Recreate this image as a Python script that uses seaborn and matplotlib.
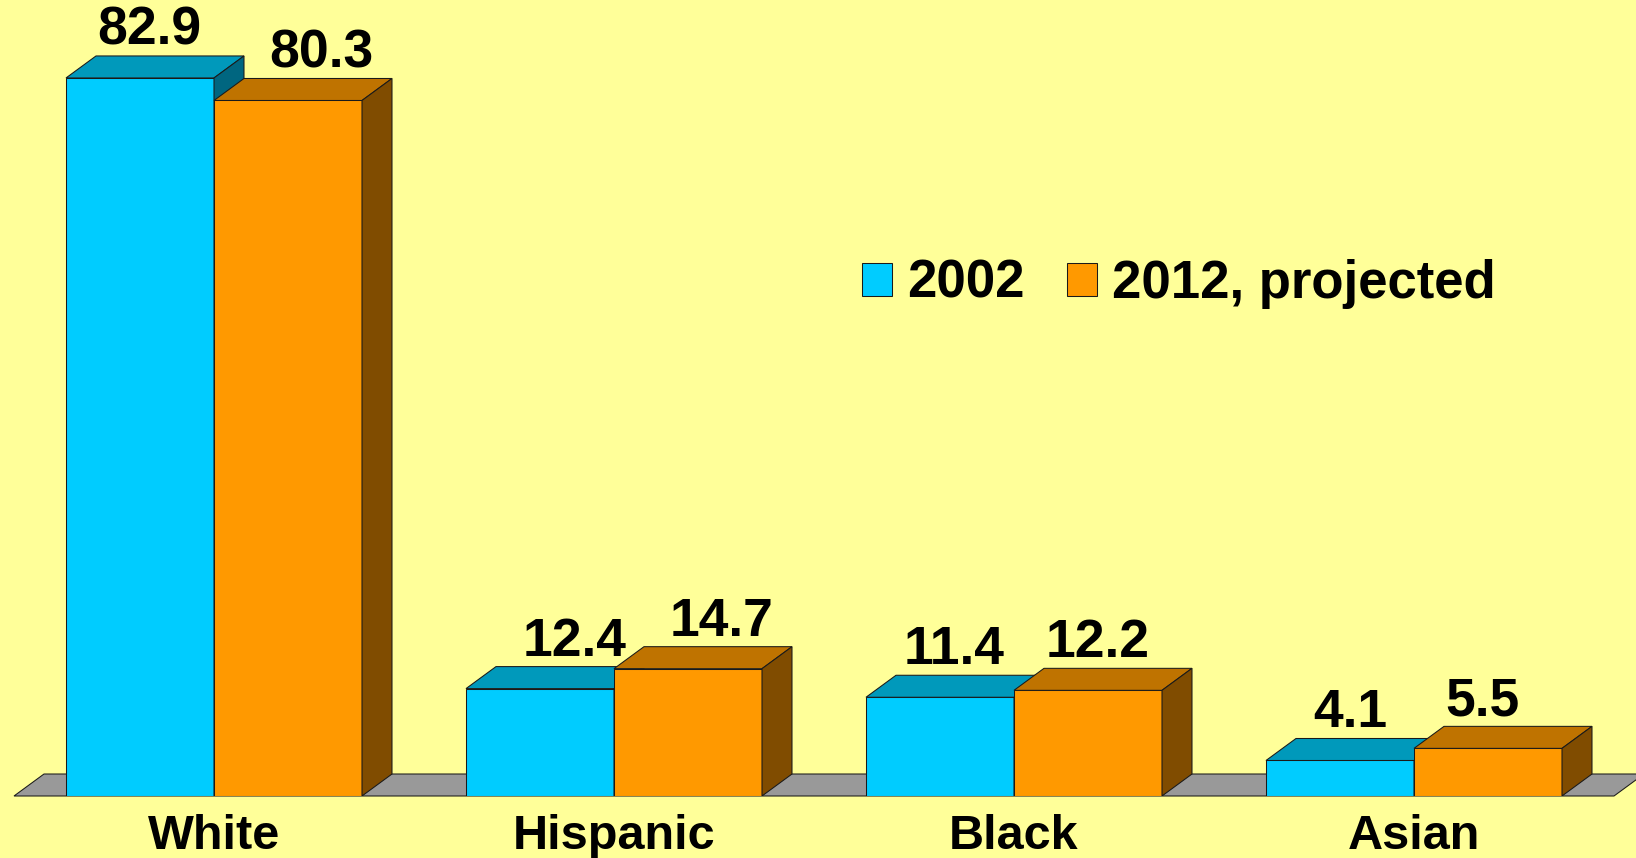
import matplotlib
matplotlib.use("Agg")
import matplotlib.pyplot as plt
from matplotlib.patches import Polygon
import pandas as pd
import seaborn as sns

# ── Data ───────────────────────────────────────────────────────────────────────
GROUPS = ["White", "Hispanic", "Black", "Asian"]
SERIES = ["2002", "2012, projected"]
VALUES_2002 = [82.9, 12.4, 11.4, 4.1]
VALUES_2012 = [80.3, 14.7, 12.2, 5.5]

# ── Style ──────────────────────────────────────────────────────────────────────
BG = "#FFFF99"
EDGE = "#1a1a1a"
FRONT = {"2002": "#00CCFF", "2012, projected": "#FF9900"}
TOP = {"2002": "#0099BB", "2012, projected": "#BF7300"}
SIDE = {"2002": "#006680", "2012, projected": "#804C00"}
DX, DY = 30, 22            # 3-D depth in pixels
LABEL_GAP = 11             # px between back-top edge and label baseline
# hand-placed label nudges (px), per series, per group
LABEL_NUDGE = {"2002": [9, 35, 14, 10], "2012, projected": [33, 34, 10, -6]}

df = pd.DataFrame({
    "group": GROUPS * 2,
    "series": [SERIES[0]] * len(GROUPS) + [SERIES[1]] * len(GROUPS),
    "value": VALUES_2002 + VALUES_2012,
})

sns.set_style("white")
plt.rcParams["font.family"] = ["Liberation Sans", "DejaVu Sans"]
plt.rcParams["font.weight"] = "bold"
plt.rcParams["text.color"] = "black"
plt.rcParams["xtick.color"] = "black"
plt.rcParams["xtick.labelcolor"] = "black"

fig = plt.figure(figsize=(16.36, 8.58), dpi=100, facecolor=BG)
ax = fig.add_axes([0, 62 / 858, 1, 796 / 858])
ax.set_facecolor(BG)

sns.barplot(data=df, x="group", y="value", hue="series", hue_order=SERIES,
            palette=FRONT, width=0.74, saturation=1, edgecolor=EDGE,
            linewidth=0.75, ax=ax)

ax.set_xlim(-0.535, 3.555)
ax.set_ylim(0, 91.9)


def shift(x, y):
    px, py = ax.transData.transform((x, y))
    return tuple(ax.transData.inverted().transform((px + DX, py + DY)))


# floor
bars = [p for c in ax.containers for p in c]
fx0 = min(p.get_x() for p in bars) - 0.13
fx1 = max(p.get_x() + p.get_width() for p in bars) + 0.13
ax.add_patch(Polygon([(fx0, 0), (fx1, 0), shift(fx1, 0), shift(fx0, 0)],
                     closed=True, facecolor="#999999", edgecolor=EDGE,
                     linewidth=0.75, zorder=1, clip_on=False))

# 3-D tops and sides, labels
for i, (name, cont) in enumerate(zip(SERIES, ax.containers)):
    z = 2 + i
    for j, bar in enumerate(cont):
        x0, w, h = bar.get_x(), bar.get_width(), bar.get_height()
        x1 = x0 + w
        bar.set_zorder(z)
        ax.add_patch(Polygon([(x0, h), (x1, h), shift(x1, h), shift(x0, h)],
                             closed=True, facecolor=TOP[name], edgecolor=EDGE,
                             linewidth=0.75, zorder=z))
        ax.add_patch(Polygon([(x1, 0), (x1, h), shift(x1, h), shift(x1, 0)],
                             closed=True, facecolor=SIDE[name], edgecolor=EDGE,
                             linewidth=0.75, zorder=z))
        ax.annotate(f"{h:.1f}", (x0 + w / 2, h),
                    xytext=(LABEL_NUDGE[name][j], DY + LABEL_GAP),
                    textcoords="offset pixels", ha="center", va="baseline",
                    fontsize=38.5, fontweight="bold", color="black", zorder=10)

# axes cosmetics
for s in ax.spines.values():
    s.set_visible(False)
ax.set_xlabel("")
ax.set_ylabel("")
ax.set_yticks([])
ax.tick_params(axis="x", length=0, pad=13, labelsize=35, labelcolor="black")
for t in ax.get_xticklabels():
    t.set_fontweight("bold")

sns.move_legend(ax, loc="center left", bbox_to_anchor=(862 / 1636, 1 - 284 / 858),
                bbox_transform=fig.transFigure, ncol=2, frameon=False, title=None,
                fontsize=38, handlelength=0.56, handleheight=0.6,
                handletextpad=0.3, columnspacing=0.8, borderpad=0, borderaxespad=0)
for t in ax.get_legend().get_texts():
    t.set_fontweight("bold")
    t.set_color("black")

fig.savefig("out.png", dpi=100, facecolor=BG)
